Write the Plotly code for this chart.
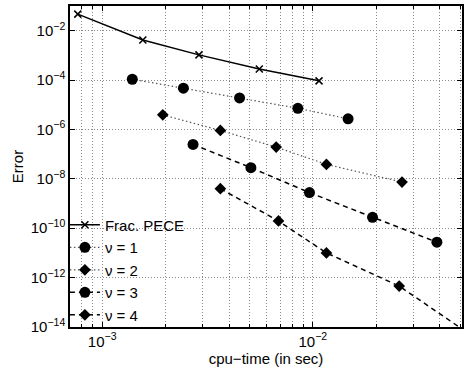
import plotly.graph_objects as go

# data
pece_x = [7.66e-4, 1.56e-3, 2.88e-3, 5.57e-3, 1.07e-2]
pece_y = [4.7e-2, 4.2e-3, 1.05e-3, 2.83e-4, 9.3e-5]

nu1_x = [1.39e-3, 2.43e-3, 4.49e-3, 8.49e-3, 1.47e-2]
nu1_y = [1.08e-4, 4.7e-5, 1.9e-5, 7.2e-6, 2.7e-6]

nu2_x = [1.94e-3, 3.64e-3, 6.7e-3, 1.16e-2, 2.65e-2]
nu2_y = [3.9e-6, 9.1e-7, 1.93e-7, 3.85e-8, 7.4e-9]

nu3_x = [2.70e-3, 5.08e-3, 9.64e-3, 1.92e-2, 3.88e-2]
nu3_y = [2.48e-7, 2.84e-8, 2.77e-9, 2.78e-10, 2.72e-11]

nu4_x = [3.64e-3, 6.87e-3, 1.16e-2, 2.57e-2, 5.5e-2]
nu4_y = [4.0e-9, 1.97e-10, 1.0e-11, 4.54e-13, 5.4e-15]

x_ticks = [1e-3, 1e-2]
x_ticktext = ["10<sup>−3</sup>", "10<sup>−2</sup>"]
x_minor = [8e-4, 9e-4, 1e-3, 2e-3, 3e-3, 4e-3, 5e-3, 6e-3, 7e-3, 8e-3, 9e-3,
           1e-2, 2e-2, 3e-2, 4e-2, 5e-2]
y_ticks = [1e-2, 1e-4, 1e-6, 1e-8, 1e-10, 1e-12, 1e-14]
y_ticktext = ["10<sup>−2</sup>", "10<sup>−4</sup>", "10<sup>−6</sup>", "10<sup>−8</sup>",
              "10<sup>−10</sup>", "10<sup>−12</sup>", "10<sup>−14</sup>"]

FONT = "Liberation Sans, Arial, sans-serif"

fig = go.Figure()
fig.add_trace(go.Scatter(x=pece_x, y=pece_y, name="Frac. PECE", mode="lines+markers",
                         line=dict(color="black", width=1.5),
                         marker=dict(symbol="x-thin-open", size=7, line=dict(color="black", width=1.5))))
fig.add_trace(go.Scatter(x=nu1_x, y=nu1_y, name="ν = 1", mode="lines+markers",
                         line=dict(color="#555555", width=1.2, dash="1.5px,2.5px"),
                         marker=dict(symbol="circle", size=11, color="black")))
fig.add_trace(go.Scatter(x=nu2_x, y=nu2_y, name="ν = 2", mode="lines+markers",
                         line=dict(color="#555555", width=1.2, dash="1.5px,2.5px"),
                         marker=dict(symbol="diamond", size=9, color="black")))
fig.add_trace(go.Scatter(x=nu3_x, y=nu3_y, name="ν = 3", mode="lines+markers",
                         line=dict(color="black", width=1.5, dash="5px,4px"),
                         marker=dict(symbol="circle", size=11, color="black")))
fig.add_trace(go.Scatter(x=nu4_x, y=nu4_y, name="ν = 4", mode="lines+markers",
                         line=dict(color="black", width=1.5, dash="5px,4px"),
                         marker=dict(symbol="diamond", size=9, color="black")))

grid = dict(showgrid=True, gridcolor="#8c8c8c", gridwidth=1, griddash="1px,2px")
fig.update_layout(
    width=470, height=372,
    margin=dict(l=70, r=8, t=6, b=45, autoexpand=False),
    paper_bgcolor="white", plot_bgcolor="white",
    font=dict(family=FONT, size=15, color="black"),
    showlegend=True,
    legend=dict(x=-0.013, y=0.369, xanchor="left", yanchor="top",
                bgcolor="rgba(255,255,255,0)", borderwidth=0,
                font=dict(size=15, family=FONT), itemwidth=30,
                tracegroupgap=0),
    xaxis=dict(type="log", range=[-3.1526, -1.292], automargin=False,
               tickvals=x_ticks, ticktext=x_ticktext,
               ticks="inside", ticklen=5, tickcolor="black",
               showline=True, linecolor="black", linewidth=1.5, mirror="allticks",
               title=dict(text="cpu−time (in sec)", font=dict(size=15), standoff=4),
               zeroline=False,
               minor=dict(tickvals=x_minor, ticks="inside", ticklen=3, tickcolor="black",
                          **grid),
               **grid),
    yaxis=dict(type="log", range=[-14, -1.0], automargin=False,
               tickvals=y_ticks, ticktext=y_ticktext,
               ticks="inside", ticklen=5, tickcolor="black",
               showline=True, linecolor="black", linewidth=1.5, mirror="allticks",
               title=dict(text="Error", font=dict(size=15), standoff=4),
               zeroline=False,
               **grid),
)

fig.write_html("out.html", config={"displayModeBar": False},
               post_script="document.body.style.margin='0';document.body.style.overflow='hidden';")
